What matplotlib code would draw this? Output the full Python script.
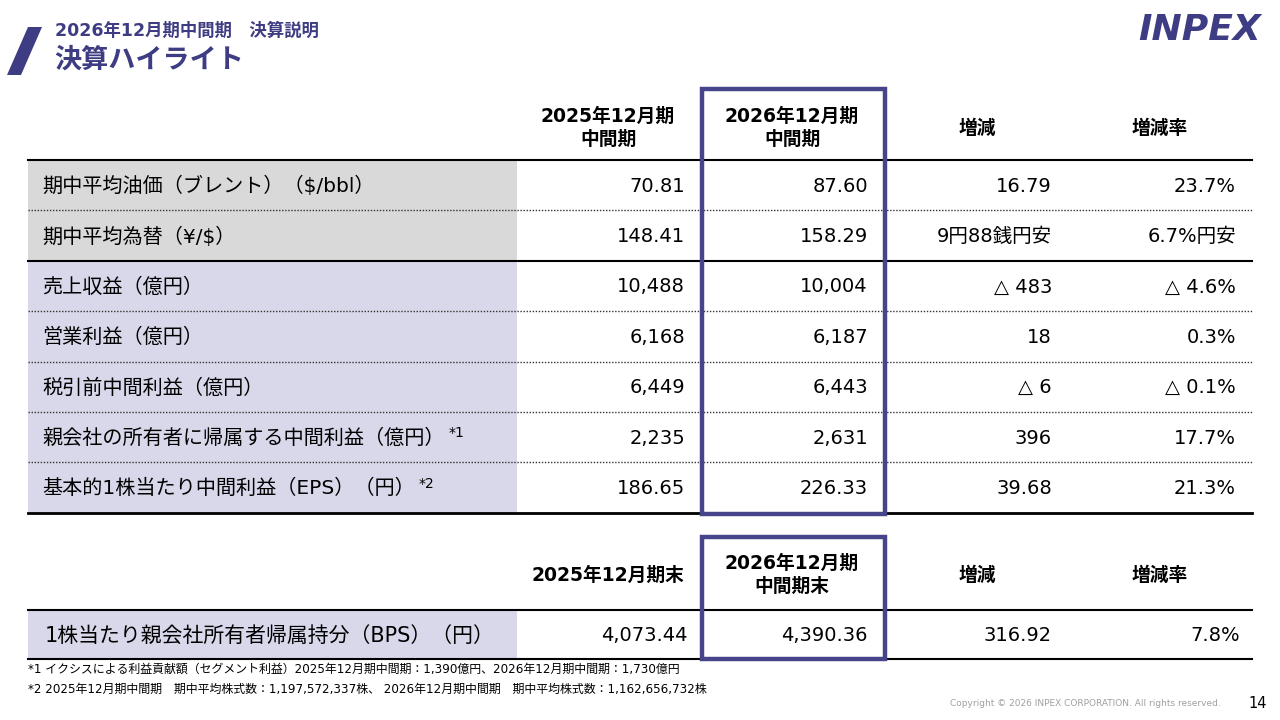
import matplotlib
matplotlib.use("Agg")
import matplotlib.pyplot as plt
from matplotlib.patches import Rectangle, Polygon

plt.rcParams['font.family'] = ['DejaVu Sans', 'Noto Sans CJK JP']

# ---------------- data ----------------
slide_subtitle = "2026年12月期中間期　決算説明"
slide_title = "決算ハイライト"

col_headers = ["2025年12月期\n中間期", "2026年12月期\n中間期", "増減", "増減率"]
row_labels = [
    "期中平均油価（ブレント）（$/bbl）",
    "期中平均為替（¥/$）",
    "売上収益（億円）",
    "営業利益（億円）",
    "税引前中間利益（億円）",
    "親会社の所有者に帰属する中間利益（億円）",
    "基本的1株当たり中間利益（EPS）（円）",
]
row_notes = ["", "", "", "", "", "*1", "*2"]
row_group = ["market", "market", "pl", "pl", "pl", "pl", "pl"]
prev_values = ["70.81", "148.41", "10,488", "6,168", "6,449", "2,235", "186.65"]
curr_values = ["87.60", "158.29", "10,004", "6,187", "6,443", "2,631", "226.33"]
changes = ["16.79", "9円88銭円安", "△ 483", "18", "△ 6", "396", "39.68"]
change_rates = ["23.7%", "6.7%円安", "△ 4.6%", "0.3%", "△ 0.1%", "17.7%", "21.3%"]

bs_headers = ["2025年12月期末", "2026年12月期\n中間期末", "増減", "増減率"]
bs_labels = ["1株当たり親会社所有者帰属持分（BPS）（円）"]
bs_prev = ["4,073.44"]
bs_curr = ["4,390.36"]
bs_change = ["316.92"]
bs_rate = ["7.8%"]

footnotes = [
    "*1 イクシスによる利益貢献額（セグメント利益）2025年12月期中間期：1,390億円、2026年12月期中間期：1,730億円",
    "*2 2025年12月期中間期　期中平均株式数：1,197,572,337株、 2026年12月期中間期　期中平均株式数：1,162,656,732株",
]
copyright_text = "Copyright © 2026 INPEX CORPORATION. All rights reserved."
page_no = "14"

# ---------------- style ----------------
NAVY = "#3E3C82"
BOX = "#46448A"
GRAY = "#D9D9D9"
LAV = "#D9D8EB"
fill_colors = {"market": GRAY, "pl": LAV}

fig = plt.figure(figsize=(12.8, 7.2), dpi=100)
ax = fig.add_axes([0, 0, 1, 1])
ax.set_xlim(0, 1280)
ax.set_ylim(720, 0)
ax.axis("off")

# header of slide
ax.add_patch(Polygon([(28, 27), (42, 27), (21, 75), (7, 75)], closed=True,
                     color=NAVY, lw=0))
ax.text(55, 31, slide_subtitle, fontsize=12.5, fontweight="bold", color=NAVY,
        va="center", ha="left")
ax.text(54, 61, slide_title, fontsize=19.5, fontweight="bold", color=NAVY,
        va="center", ha="left")
ax.text(1200, 30, "INPEX", fontsize=26, fontweight="heavy", style="italic",
        color=NAVY, va="center", ha="center", family="DejaVu Sans")

# layout
x_left, x_right = 28, 1252
x_label_end = 517
label_x = 42
col_right = [685, 868, 1052, 1236]
col_center = [608, 792, 977, 1160]
box_x0, box_x1 = 702, 885

# ---------- top table ----------
row_top = 160
row_h = 50.4
n = len(row_labels)
for i, c in enumerate(col_headers):
    ax.text(col_center[i], 128, c, fontsize=13.5, fontweight="bold",
            ha="center", va="center", linespacing=1.25)

for i in range(n):
    y0 = row_top + i * row_h
    ax.add_patch(Rectangle((x_left, y0), x_label_end - x_left, row_h,
                           color=fill_colors[row_group[i]], lw=0, zorder=0))
    yc = y0 + row_h / 2 + 1
    t = ax.text(label_x, yc, row_labels[i], fontsize=14.5, ha="left", va="center")
    if row_notes[i]:
        ax.annotate(row_notes[i], xy=(1, 0.75), xycoords=t, xytext=(3, 0),
                    textcoords="offset points", fontsize=10, ha="left",
                    va="center")
    vals = [prev_values[i], curr_values[i], changes[i], change_rates[i]]
    for j, v in enumerate(vals):
        ax.text(col_right[j], yc, v, fontsize=14, ha="right", va="center")

# separators
ax.plot([x_left, x_right], [row_top, row_top], color="black", lw=1.5)
for i in range(1, n):
    y = row_top + i * row_h
    if row_group[i] != row_group[i - 1]:
        ax.plot([x_left, x_right], [y, y], color="black", lw=1.5)
    else:
        ax.plot([x_left, x_right], [y, y], color="#333333", lw=1.0,
                linestyle=(0, (1, 1.2)))
y_end = row_top + n * row_h
ax.plot([x_left, x_right], [y_end, y_end], color="black", lw=2)

ax.add_patch(Rectangle((box_x0, 89), box_x1 - box_x0, y_end + 1 - 89,
                       fill=False, edgecolor=BOX, lw=3.2, zorder=5))

# ---------- bottom table ----------
bs_top = 610
bs_h = 49
for i, c in enumerate(bs_headers):
    ax.text(col_center[i], 575, c, fontsize=13.5, fontweight="bold",
            ha="center", va="center", linespacing=1.25)
for i in range(len(bs_labels)):
    y0 = bs_top + i * bs_h
    ax.add_patch(Rectangle((x_left, y0), x_label_end - x_left, bs_h,
                           color=LAV, lw=0, zorder=0))
    yc = y0 + bs_h / 2 + 1
    ax.text(45, yc, bs_labels[i], fontsize=15, ha="left", va="center")
    vals = [bs_prev[i], bs_curr[i], bs_change[i], bs_rate[i]]
    rights = [688, 868, 1052, 1240]
    for j, v in enumerate(vals):
        ax.text(rights[j], yc, v, fontsize=14, ha="right", va="center")
ax.plot([x_left, x_right], [bs_top, bs_top], color="black", lw=1.5)
bs_end = bs_top + len(bs_labels) * bs_h
ax.plot([x_left, x_right], [bs_end, bs_end], color="black", lw=1.5)
ax.add_patch(Rectangle((box_x0, 537), box_x1 - box_x0, bs_end - 537,
                       fill=False, edgecolor=BOX, lw=3.2, zorder=5))

# footnotes
for k, fn in enumerate(footnotes):
    ax.text(28, 669 + 20 * k, fn, fontsize=8.6, ha="left", va="center",
            family=["DejaVu Sans", "Noto Sans CJK JP"])

ax.text(1085, 703, copyright_text, fontsize=6.5, color="#A0A0A0",
        ha="center", va="center")
ax.text(1258, 703, page_no, fontsize=10.5, ha="center", va="center")

fig.savefig("out.png", dpi=100)
